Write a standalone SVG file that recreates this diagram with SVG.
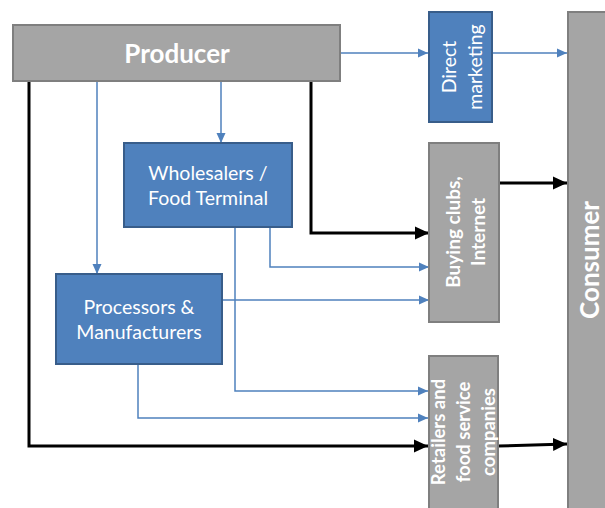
<svg xmlns="http://www.w3.org/2000/svg" width="605" height="508" viewBox="0 0 605 508">
<style>
.grey{fill:#A5A5A5;stroke:#7F7F7F;stroke-width:2}
.blue{fill:#4F81BD;stroke:#385D8A;stroke-width:2}
.t{font-family:Lato,"Open Sans","Liberation Sans",sans-serif;fill:#fff;text-anchor:middle;dominant-baseline:central}
.b{font-weight:bold}
.cb{fill:none;stroke:#4F81BD;stroke-width:1.5;marker-end:url(#ab)}
.ck{fill:none;stroke:#000;stroke-width:3;marker-end:url(#ak)}
</style>
<defs>
<marker id="ab" markerUnits="userSpaceOnUse" markerWidth="10" markerHeight="10" refX="10" refY="5" orient="auto"><path d="M0,0.5 L10,5 L0,9.5 z" fill="#4F81BD"/></marker>
<marker id="ak" markerUnits="userSpaceOnUse" markerWidth="14" markerHeight="14" refX="14" refY="7" orient="auto"><path d="M0,0.5 L14,7 L0,13.5 z" fill="#000"/></marker>
</defs>
<g id="connectors">
<path class="cb" d="M340,53 H428"/>
<path class="cb" d="M492,53 H567"/>
<path class="cb" d="M221,82 V143"/>
<path class="cb" d="M97,82 V274"/>
<path class="ck" d="M311,82 V233 H429"/>
<path class="ck" d="M29,82 V446 H428"/>
<path class="ck" d="M499,183 H567"/>
<path class="cb" d="M270,228 V267 H429"/>
<path class="cb" d="M223,300 H429"/>
<path class="cb" d="M235,228 V391 H428"/>
<path class="cb" d="M138,365 V418 H428"/>
<path class="ck" d="M498,446 L567,444"/>
</g>
<g id="producer">
<rect class="grey" x="13" y="25" width="327" height="56"/>
<text class="t b" x="177" y="53" font-size="26">Producer</text>
</g>
<g id="direct-marketing">
<rect class="blue" x="429" y="12" width="63" height="110"/>
<text class="t" transform="translate(461,67) rotate(-90)" font-size="19.5"><tspan x="0" y="-13">Direct</tspan><tspan x="0" y="13">marketing</tspan></text>
</g>
<g id="consumer">
<rect class="grey" x="568" y="12" width="42" height="500"/>
<text class="t b" transform="translate(589,260) rotate(-90)" font-size="26">Consumer</text>
</g>
<g id="buying-clubs">
<rect class="grey" x="429" y="143" width="70" height="179"/>
<text class="t b" transform="translate(464,232) rotate(-90)" font-size="19"><tspan x="0" y="-12.5">Buying clubs,</tspan><tspan x="0" y="12.5">Internet</tspan></text>
</g>
<g id="wholesalers">
<rect class="blue" x="124" y="143" width="168" height="84"/>
<text class="t" x="208" y="172" font-size="19.5">Wholesalers /</text>
<text class="t" x="208" y="197" font-size="19.5">Food Terminal</text>
</g>
<g id="processors">
<rect class="blue" x="56" y="274" width="166" height="90"/>
<text class="t" x="139" y="306" font-size="19.5">Processors &amp;</text>
<text class="t" x="139" y="331" font-size="19.5">Manufacturers</text>
</g>
<g id="retailers">
<rect class="grey" x="429" y="356" width="69" height="160"/>
<text class="t b" transform="translate(463,432) rotate(-90)" font-size="18.5"><tspan x="0" y="-25">Retailers and</tspan><tspan x="0" y="0">food service</tspan><tspan x="0" y="25">companies</tspan></text>
</g>
</svg>
